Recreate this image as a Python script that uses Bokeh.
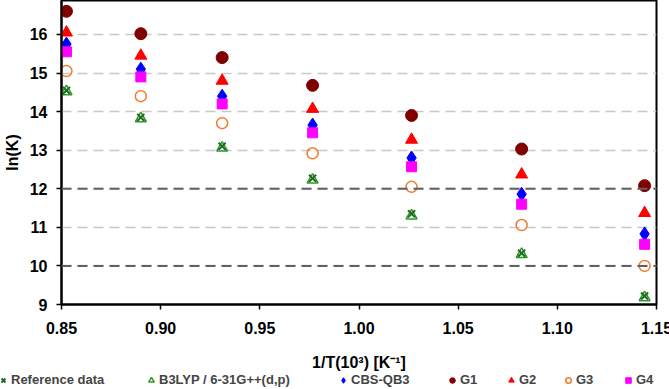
from bokeh.plotting import figure
from bokeh.layouts import column
from bokeh.models import Legend, LegendItem, Span, FixedTicker, CustomJSTickFormatter, Range1d
from bokeh.core.properties import value
from bokeh.embed import file_html
from bokeh.resources import INLINE

x = [0.8525, 0.890, 0.931, 0.9766, 1.0265, 1.082, 1.144]
ref_data = [14.55, 13.85, 13.10, 12.27, 11.35, 10.33, 9.22]
b3lyp = [14.52, 13.82, 13.06, 12.23, 11.30, 10.30, 9.18]
cbs_qb3 = [15.75, 15.10, 14.40, 13.65, 12.80, 11.86, 10.83]
g1 = [16.60, 16.02, 15.40, 14.68, 13.90, 13.03, 12.08]
g2 = [16.05, 15.45, 14.80, 14.07, 13.27, 12.37, 11.37]
g3 = [15.05, 14.40, 13.70, 12.92, 12.05, 11.06, 10.00]
g4 = [15.55, 14.90, 14.20, 13.45, 12.57, 11.60, 10.56]

x_ticks = [0.85, 0.90, 0.95, 1.00, 1.05, 1.10, 1.15]
y_ticks = [9, 10, 11, 12, 13, 14, 15, 16]
dark_lines = [10, 12]
x_title = "1/T(10³) [K⁻¹]"
y_title = "ln(K)"

FONT = "Liberation Sans"

series = [
    ("Reference data", ref_data, dict(marker="x", size=10, line_color="#1f6b1f", line_width=2)),
    ("B3LYP / 6-31G++(d,p)", b3lyp, dict(marker="triangle", size=11, fill_color=None,
                                         line_color="#2e9a2e", line_width=1.5)),
    ("CBS-QB3", cbs_qb3, dict(marker="diamond", size=14, fill_color="#0000ff", line_color="#0000ff")),
    ("G1", g1, dict(marker="circle", size=12, fill_color="#800000", line_color="#800000")),
    ("G2", g2, dict(marker="triangle", size=12, fill_color="#ff0000", line_color="#ff0000")),
    ("G3", g3, dict(marker="circle", size=11, fill_color=None, line_color="#f07d30", line_width=1.5)),
    ("G4", g4, dict(marker="square", size=10, fill_color="#ff00ff", line_color="#ff00ff")),
]
draw_order = [1, 0, 2, 3, 4, 5, 6]
# layout: pixel x of each legend swatch centre
legend_centres = [3, 151, 343, 452, 511, 568, 628]

MAIN_H = 341
p = figure(frame_width=595, frame_height=304, output_backend="svg", toolbar_location=None,
           x_range=(0.85, 1.15), y_range=(9, 16.88),
           min_border_left=58, min_border_right=16, min_border_top=0,
           min_border_bottom=MAIN_H - 304)

p.outline_line_color = "black"
p.outline_line_width = 2
p.background_fill_color = "white"
p.border_fill_color = "white"

p.xgrid.visible = False
p.ygrid.grid_line_color = "#c8c8c8"
p.ygrid.grid_line_width = 1.5
p.ygrid.grid_line_dash = "10 6"
p.ygrid.ticker = FixedTicker(ticks=y_ticks)

for v in dark_lines:
    p.add_layout(Span(location=v, dimension="width", line_color="#606060",
                      line_width=2, line_dash="10 6"))

p.xaxis.ticker = FixedTicker(ticks=x_ticks)
p.yaxis.ticker = FixedTicker(ticks=y_ticks)
p.xaxis.formatter = CustomJSTickFormatter(code="return tick.toFixed(2);")

for ax in (p.xaxis[0], p.yaxis[0]):
    ax.axis_line_color = "black"
    ax.axis_line_width = 2
    ax.major_tick_line_color = "black"
    ax.major_tick_line_width = 1.5
    ax.major_tick_in = 0
    ax.major_tick_out = 5
    ax.minor_tick_line_color = None
    ax.major_label_text_font = FONT
    ax.major_label_text_font_style = "bold"
    ax.major_label_text_font_size = "16px"
    ax.major_label_text_color = "black"
    ax.axis_label_text_font = FONT
    ax.axis_label_text_font_style = "bold"
    ax.axis_label_text_font_size = "16px"
    ax.axis_label_text_color = "black"

p.yaxis.axis_label = y_title
p.xaxis.major_label_standoff = 12
p.yaxis.major_label_standoff = 9
p.yaxis.axis_label_standoff = 6

for i in draw_order:
    name, vals, kw = series[i]
    p.scatter(x, vals, **kw)

# strip below the chart: x-axis title and legend (pixel coordinates)
LG_H = 389 - MAIN_H
lg = figure(frame_width=669, frame_height=LG_H, output_backend="svg", toolbar_location=None,
            x_range=(0, 669), y_range=(0, LG_H), min_border=0)
lg.axis.visible = False
lg.grid.visible = False
lg.outline_line_color = None
lg.border_fill_color = "white"
lg.background_fill_color = "white"
lg.extra_x_ranges = {"hidden": Range1d(100, 101)}

TITLE_SHIFT = 58  # the strip's data frame is offset by the chart's left border
lg.text(x=[58 + 595 / 2 - TITLE_SHIFT], y=[LG_H - 21], text=[x_title], text_align="center",
        text_baseline="middle", text_font=value(FONT), text_font_style="bold",
        text_font_size="16px", text_color="black")

for (name, vals, kw), cx in zip(series, legend_centres):
    r = lg.scatter(x, vals, x_range_name="hidden", **kw)   # out of view; feeds the swatch only
    lgd = Legend(items=[LegendItem(label=name, renderers=[r])], location=(cx - 7, 2))
    lgd.label_text_font = FONT
    lgd.label_text_font_style = "bold"
    lgd.label_text_font_size = "13px"
    lgd.glyph_width = 14
    lgd.glyph_height = 14
    lgd.label_standoff = 1
    lgd.padding = 0
    lgd.margin = 0
    lgd.border_line_color = None
    lgd.background_fill_alpha = 0
    lgd.label_height = 13
    lg.add_layout(lgd)

layout = column(p, lg, spacing=0)
open("out.html", "w").write(file_html(layout, INLINE))
